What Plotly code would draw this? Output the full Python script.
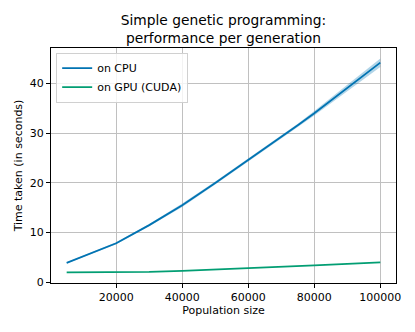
import plotly.graph_objects as go

# data
pop_size = [5000, 10000, 20000, 30000, 40000, 50000, 60000, 75000, 80000, 100000]
cpu_time = [3.9, 5.2, 7.85, 11.5, 15.5, 20.0, 24.6, 31.6, 34.0, 44.2]
cpu_lo = [3.75, 5.05, 7.65, 11.25, 15.15, 19.7, 24.3, 31.3, 33.55, 43.35]
cpu_hi = [4.05, 5.35, 8.05, 11.75, 15.85, 20.3, 24.9, 31.9, 34.45, 45.05]
gpu_time = [2.0, 2.0, 2.05, 2.1, 2.3, 2.55, 2.8, 3.25, 3.4, 4.0]

blue = "#0173B2"
green = "#029E73"
font = "DejaVu Sans"

fig = go.Figure()

fig.add_trace(go.Scatter(x=pop_size, y=cpu_lo, mode="lines", line=dict(width=0),
                         showlegend=False, hoverinfo="skip"))
fig.add_trace(go.Scatter(x=pop_size, y=cpu_hi, mode="lines", line=dict(width=0),
                         fill="tonexty", fillcolor="rgba(1,115,178,0.3)",
                         showlegend=False, hoverinfo="skip"))
fig.add_trace(go.Scatter(x=pop_size, y=cpu_time, mode="lines", name="on CPU",
                         line=dict(color=blue, width=1.8)))
fig.add_trace(go.Scatter(x=pop_size, y=gpu_time, mode="lines", name="on GPU (CUDA)",
                         line=dict(color=green, width=1.8)))

axis_common = dict(
    showline=True, linecolor="black", linewidth=1, mirror=True,
    showgrid=True, gridcolor="#c0c0c0", gridwidth=1,
    ticks="outside", ticklen=4, tickcolor="black",
    zeroline=False, tickfont=dict(size=11, color="black"),
    automargin=False,
)

# page body has an 8px margin, so the figure is drawn 8px smaller and shifted
fig.update_layout(
    width=407, height=324,
    margin=dict(l=43, r=19, t=40, b=49),
    paper_bgcolor="white", plot_bgcolor="white",
    font=dict(family=font, color="black"),
    title=dict(text="Simple genetic programming:<br>performance per generation",
               x=0.5, xref="paper", xanchor="center",
               y=1, yref="paper", yanchor="bottom", pad=dict(b=23),
               font=dict(size=13.8)),
    xaxis=dict(axis_common, range=[250, 104750], tickvals=[20000, 40000, 60000, 80000, 100000],
               tickformat="d",
               title=dict(text="Population size", font=dict(size=11), standoff=3)),
    yaxis=dict(axis_common, range=[-0.15, 47.15], tickvals=[0, 10, 20, 30, 40],
               title=dict(text="Time taken (in seconds)", font=dict(size=11), standoff=4)),
    legend=dict(x=0.015, y=0.98, xanchor="left", yanchor="top", traceorder="normal",
                bgcolor="rgba(255,255,255,0.8)", bordercolor="#d0d0d0", borderwidth=1,
                font=dict(size=11), tracegroupgap=0, itemwidth=30),
    showlegend=True,
)

fig.write_html("out.html")
